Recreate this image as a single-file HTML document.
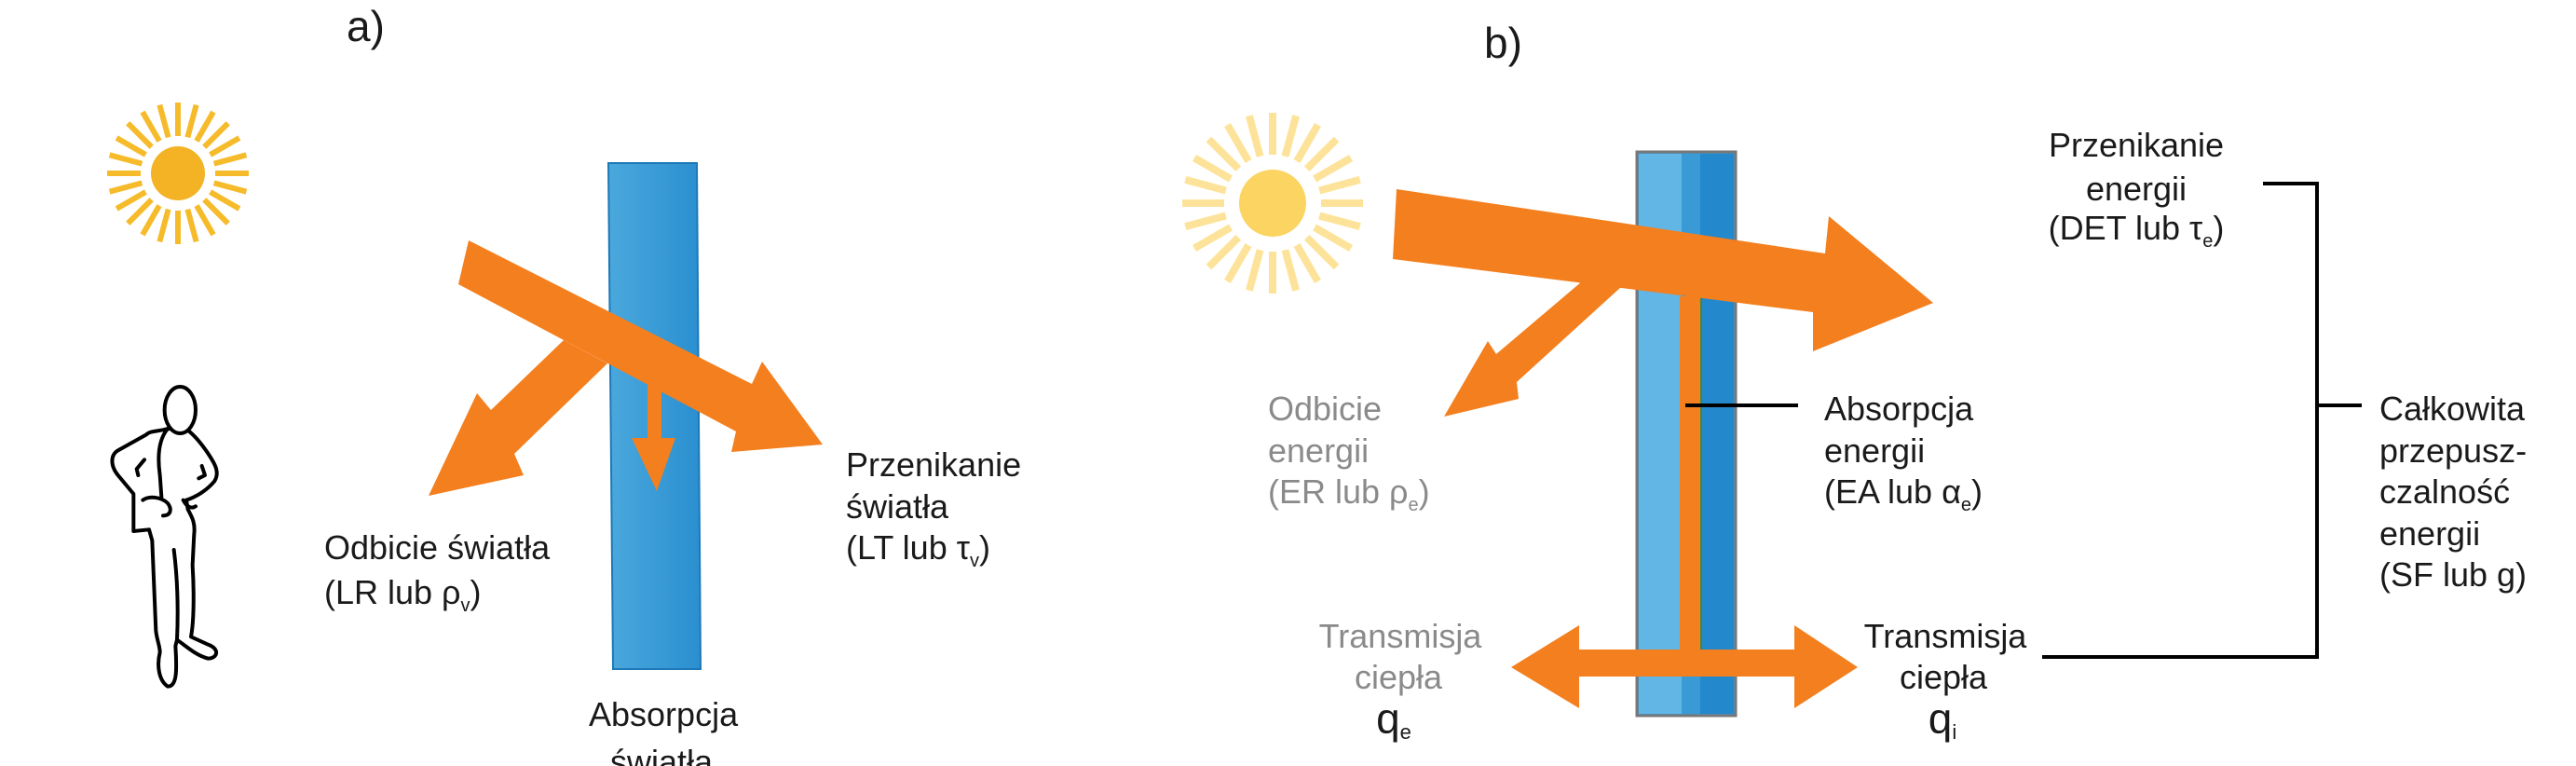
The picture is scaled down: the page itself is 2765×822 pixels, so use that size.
<!DOCTYPE html>
<html><head><meta charset="utf-8"><style>
html,body{margin:0;padding:0;background:#fff}
svg{display:block}
text{font-family:"Liberation Sans",sans-serif;fill:#1a1a1a}
.g{fill:#8a8a8a}
</style></head><body>
<svg width="2765" height="822" viewBox="0 0 2765 822" xmlns="http://www.w3.org/2000/svg">
<defs>
<linearGradient id="gl" x1="0" x2="1"><stop offset="0" stop-color="#4aa8dc"/><stop offset="1" stop-color="#2a8fd0"/></linearGradient>
</defs>
<text x="372" y="44" font-size="46">a)</text>
<text x="1593" y="62" font-size="46">b)</text>

<!-- left sun -->
<g transform="translate(191,186)" stroke="#f6bb2a" stroke-width="6" stroke-linecap="butt">
<g id="rays">
<line x1="40" y1="0" x2="76" y2="0"/><line x1="-40" y1="0" x2="-76" y2="0"/>
<line x1="0" y1="40" x2="0" y2="76"/><line x1="0" y1="-40" x2="0" y2="-76"/>
</g>
<use href="#rays" transform="rotate(15)"/><use href="#rays" transform="rotate(30)"/>
<use href="#rays" transform="rotate(45)"/><use href="#rays" transform="rotate(60)"/>
<use href="#rays" transform="rotate(75)"/>
<circle r="29" fill="#f4b324" stroke="none"/>
</g>

<!-- left glass -->
<polygon points="653,175 748,175 752,718 658,718" fill="url(#gl)" stroke="#1d78b8" stroke-width="2"/>

<!-- left arrows -->
<polygon points="503,258 807,412 818,388 883,477 785,485 790,463 492,305" fill="#f47f1e"/>
<polygon points="605,365 652,390 552,487 562,510 460,532 512,422 527,440" fill="#f47f1e"/>
<polygon points="695,407 710,407 710,470 725,470 705,527 678,470 695,470" fill="#f47f1e"/>

<!-- person -->
<g transform="translate(90,400) scale(0.3333)" fill="#fff" stroke="#000" stroke-width="12" stroke-linejoin="round" stroke-linecap="round">
<path d="M270,180 C240,190 215,185 200,200 L110,250 C85,265 85,300 110,330 L160,390 L160,510 L210,505 L220,540 L232,830 C235,860 245,880 245,900 C235,940 240,990 270,1010 C300,1010 300,960 295,880 L300,860 C330,880 360,910 400,920 C430,920 440,890 400,875 L345,850 C355,800 355,700 350,620 L355,520 C360,480 345,460 335,440 L330,410 C360,400 395,380 420,350 C440,320 420,290 400,260 C380,230 360,205 335,185 Z"/>
<ellipse cx="310" cy="120" rx="50" ry="75"/>
<path d="M270,180 C245,210 235,260 245,330 L250,400" fill="none"/>
<path d="M195,280 L170,310 L175,330" fill="none"/>
<path d="M190,410 C210,395 250,400 270,420 C285,440 280,460 255,460" fill="none"/>
<path d="M320,410 C330,430 345,440 360,430" fill="none"/>
<path d="M380,300 L390,330 L370,340" fill="none"/>
<path d="M290,570 C300,650 305,750 300,860" fill="none"/>
</g>

<!-- left texts -->
<text x="348" y="600" font-size="36">Odbicie światła</text>
<text x="348" y="648" font-size="36">(LR lub ρ<tspan font-size="20" dy="8">v</tspan><tspan dy="-8">)</tspan></text>
<text x="908" y="511" font-size="36">Przenikanie</text>
<text x="908" y="556" font-size="36">światła</text>
<text x="908" y="600" font-size="36">(LT lub τ<tspan font-size="20" dy="8">v</tspan><tspan dy="-8">)</tspan></text>
<text x="632" y="779" font-size="36">Absorpcja</text>
<text x="655" y="830" font-size="36">światła</text>

<!-- right sun (faded) -->
<g transform="translate(1366,218)" stroke="#fde39a" stroke-width="8">
<g id="rays2">
<line x1="52" y1="0" x2="97" y2="0"/><line x1="-52" y1="0" x2="-97" y2="0"/>
<line x1="0" y1="52" x2="0" y2="97"/><line x1="0" y1="-52" x2="0" y2="-97"/>
</g>
<use href="#rays2" transform="rotate(15)"/><use href="#rays2" transform="rotate(30)"/>
<use href="#rays2" transform="rotate(45)"/><use href="#rays2" transform="rotate(60)"/>
<use href="#rays2" transform="rotate(75)"/>
<circle r="36" fill="#fcd462" stroke="none"/>
</g>

<!-- right glass -->
<rect x="1757" y="163" width="106" height="605" fill="#3a9ad6" stroke="#777" stroke-width="3"/>
<rect x="1759" y="165" width="46" height="601" fill="#62b6e6"/>
<rect x="1825" y="165" width="36" height="601" fill="#2388cc"/>
<rect x="1803" y="318" width="22" height="380" fill="#f47f1e"/>
<rect x="1825" y="318" width="2" height="380" fill="#3a8a3a"/>

<!-- right arrows -->
<polygon points="1499,203 1959,272 1963,232 2075,325 1946,377 1946,335 1495,278" fill="#f47f1e"/>
<polygon points="1698,302 1740,308 1628,410 1630,428 1550,447 1597,366 1606,380" fill="#f47f1e"/>
<polygon points="1622,716 1695,671 1695,697 1926,697 1926,671 1994,716 1926,760 1926,726 1695,726 1695,760" fill="#f47f1e"/>

<!-- leader lines -->
<line x1="1809" y1="435" x2="1930" y2="435" stroke="#000" stroke-width="4"/>
<polyline points="2429,197 2487,197 2487,705 2192,705" fill="none" stroke="#000" stroke-width="4"/>
<line x1="2487" y1="435" x2="2535" y2="435" stroke="#000" stroke-width="4"/>

<!-- right texts -->
<text class="g" x="1361" y="451" font-size="36">Odbicie</text>
<text class="g" x="1361" y="496" font-size="36">energii</text>
<text class="g" x="1361" y="540" font-size="36">(ER lub ρ<tspan font-size="20" dy="8">e</tspan><tspan dy="-8">)</tspan></text>
<text x="1958" y="451" font-size="36">Absorpcja</text>
<text x="1958" y="496" font-size="36">energii</text>
<text x="1958" y="540" font-size="36">(EA lub α<tspan font-size="20" dy="8">e</tspan><tspan dy="-8">)</tspan></text>
<text x="2293" y="168" font-size="36" text-anchor="middle">Przenikanie</text>
<text x="2293" y="215" font-size="36" text-anchor="middle">energii</text>
<text x="2293" y="257" font-size="36" text-anchor="middle">(DET lub τ<tspan font-size="20" dy="8">e</tspan><tspan dy="-8">)</tspan></text>
<text x="2554" y="451" font-size="36">Całkowita</text>
<text x="2554" y="496" font-size="36">przepusz-</text>
<text x="2554" y="540" font-size="36">czalność</text>
<text x="2554" y="585" font-size="36">energii</text>
<text x="2554" y="629" font-size="36">(SF lub g)</text>
<text class="g" x="1503" y="695" font-size="36" text-anchor="middle">Transmisja</text>
<text class="g" x="1501" y="739" font-size="36" text-anchor="middle">ciepła</text>
<text x="1496" y="787" font-size="46" text-anchor="middle">q<tspan font-size="22" dy="6">e</tspan></text>
<text x="2088" y="695" font-size="36" text-anchor="middle">Transmisja</text>
<text x="2086" y="739" font-size="36" text-anchor="middle">ciepła</text>
<text x="2085" y="787" font-size="46" text-anchor="middle">q<tspan font-size="22" dy="6">i</tspan></text>
</svg>
</body></html>
